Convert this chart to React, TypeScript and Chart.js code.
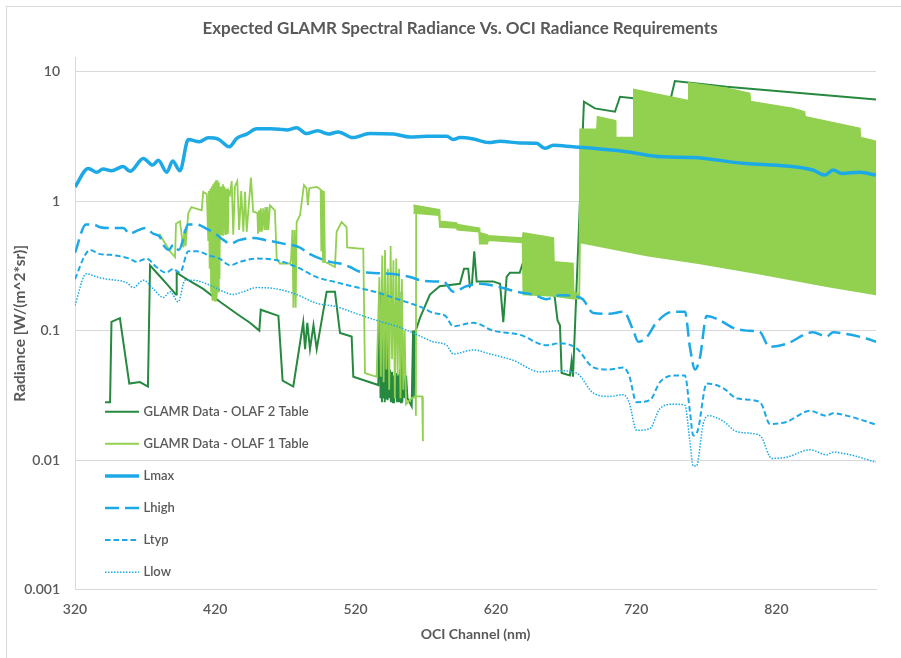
import React, { useEffect, useRef } from 'react';
import { Chart, registerables } from 'chart.js';

Chart.register(...registerables);

type P = [number, number | null];

// ---------- axis ticks ----------
const xTicks = [320, 420, 520, 620, 720, 820];
const yTicks = [0.001, 0.01, 0.1, 1, 10];
const yTickLabels = ['0.001', '0.01', '0.1', '1', '10'];

// ---------- OCI requirement curves (nm, radiance) ----------
const lmax: P[] = [
  [320, 1.29], [329.5, 1.79], [335.5, 1.67], [340, 1.77], [346, 1.72], [354.4, 1.85], [359.2, 1.7],
  [368.7, 2.14], [375.4, 1.9], [379.4, 2.07], [385.4, 1.67], [389.6, 2.04], [394.8, 1.72], [400.8, 3.0],
  [408.6, 2.88], [415, 3.09], [422.1, 3.02], [430, 2.63], [435.3, 3.06], [442.4, 3.3], [449.6, 3.62],
  [459, 3.62], [466, 3.6], [471, 3.55], [478, 3.7], [485, 3.33], [493, 3.5], [500.5, 3.3], [507.7, 3.43],
  [518, 3.1], [530, 3.33], [547, 3.3], [558.8, 3.13], [570.7, 3.17], [585, 3.17], [589.6, 3.0],
  [594.4, 3.1], [604, 3.02], [614.6, 2.84], [623, 2.9], [637, 2.82], [649, 2.8], [655, 2.56],
  [661, 2.7], [675, 2.63], [689, 2.56], [713, 2.41], [739, 2.2], [760.7, 2.18], [796, 1.96],
  [817.7, 1.9], [846, 1.74], [854.6, 1.59], [860.5, 1.74], [866.5, 1.64], [879.5, 1.67], [891, 1.59],
];

const lhigh: P[] = [
  [320, 0.4], [327.8, 0.66], [333, 0.66], [337.8, 0.63], [345, 0.62], [354.4, 0.62], [359, 0.56],
  [364, 0.59], [370, 0.62], [375.8, 0.56], [380.5, 0.53], [383, 0.46], [387, 0.42], [390, 0.46],
  [394, 0.42], [400.8, 0.66], [406.7, 0.66], [414, 0.61], [420, 0.56], [426, 0.5], [430.5, 0.47],
  [437, 0.5], [447, 0.52], [456, 0.5], [468.5, 0.47], [480, 0.44], [487.5, 0.39], [501.8, 0.34],
  [509, 0.33], [516, 0.31], [523, 0.285], [530, 0.28], [544.5, 0.275], [558.8, 0.26], [566, 0.245],
  [575.4, 0.24], [582.5, 0.24], [589.6, 0.2], [599, 0.22], [608.7, 0.23], [620.6, 0.22], [634.8, 0.2],
  [646.7, 0.19], [656, 0.175], [665.7, 0.188], [675, 0.185], [682, 0.175], [689.4, 0.137], [701, 0.135],
  [711, 0.14], [718, 0.1], [721.5, 0.082], [727.5, 0.089], [734.6, 0.116], [746.5, 0.14], [754.8, 0.14],
  [758.3, 0.075], [762, 0.05], [765.5, 0.062], [770.3, 0.13], [779.7, 0.12], [789.2, 0.105],
  [798.8, 0.1], [808, 0.098], [815, 0.075], [827, 0.079], [846, 0.097], [855.8, 0.09], [860.5, 0.097],
  [870, 0.094], [884, 0.087], [891, 0.082],
];

const ltyp: P[] = [
  [320, 0.25], [327, 0.38], [330.7, 0.42], [337.8, 0.39], [345, 0.385], [352, 0.375], [359, 0.36],
  [364, 0.34], [371, 0.36], [378, 0.31], [385, 0.28], [390, 0.3], [394.8, 0.28], [400.8, 0.41],
  [406.7, 0.41], [416, 0.38], [423, 0.36], [430.5, 0.32], [437.6, 0.34], [449.5, 0.36], [463.8, 0.35],
  [478, 0.31], [492, 0.26], [506.5, 0.236], [520.8, 0.216], [535, 0.198], [549.3, 0.176], [561, 0.16],
  [568, 0.15], [575.4, 0.137], [584, 0.13], [589.6, 0.108], [604, 0.115], [618, 0.1], [637, 0.093],
  [656, 0.077], [665.7, 0.08], [677.6, 0.073], [689.4, 0.052], [701, 0.05], [710.8, 0.052], [715, 0.045],
  [720.3, 0.028], [729.8, 0.029], [737, 0.04], [746.5, 0.045], [754.8, 0.045], [758.3, 0.024],
  [760.7, 0.0155], [764, 0.017], [770.3, 0.039], [782, 0.036], [791.6, 0.03], [803.5, 0.029],
  [809.4, 0.027], [815.4, 0.019], [827, 0.0197], [844, 0.024], [855.8, 0.022], [860.5, 0.023],
  [872.4, 0.0217], [891, 0.0188],
];

const llow: P[] = [
  [320, 0.157], [328, 0.275], [335.5, 0.26], [342.6, 0.25], [349.7, 0.245], [356.8, 0.235],
  [361.5, 0.215], [368.7, 0.245], [375.8, 0.21], [383, 0.18], [387.7, 0.2], [393.6, 0.167],
  [398.4, 0.245], [404, 0.245], [416, 0.225], [425.7, 0.2], [432.8, 0.19], [440, 0.2], [449.5, 0.215],
  [463.8, 0.21], [478, 0.19], [492, 0.163], [506.5, 0.153], [520.8, 0.135], [535, 0.12], [549.3, 0.108],
  [561, 0.096], [575.4, 0.082], [585, 0.077], [589.6, 0.066], [604, 0.071], [615.8, 0.066],
  [632.4, 0.059], [651.4, 0.048], [665.7, 0.049], [677.6, 0.047], [689.4, 0.033], [701, 0.031],
  [710.8, 0.032], [715, 0.028], [720.3, 0.017], [729.8, 0.0175], [737, 0.025], [746.5, 0.027],
  [754.8, 0.0265], [758.3, 0.014], [760.7, 0.009], [763, 0.009], [767.8, 0.019], [771.4, 0.022],
  [782, 0.02], [791.6, 0.0166], [803.5, 0.016], [809.4, 0.015], [816.6, 0.0103], [827, 0.0105],
  [844, 0.012], [855.8, 0.011], [860.5, 0.0115], [872.4, 0.011], [891, 0.0096],
];

// ---------- GLAMR data ----------
const olaf2: P[] = [
  [341.4, 0.028], [345, 0.028], [346, 0.117], [352, 0.125], [358.7, 0.039], [366.3, 0.04], [372, 0.037],
  [373.5, 0.32], [378.2, 0.28], [385.4, 0.23], [392, 0.19], [392.5, 0.28], [399.6, 0.25], [411.4, 0.21],
  [423.3, 0.167], [435.3, 0.135], [444.7, 0.115], [451.4, 0.1], [452.4, 0.145], [465, 0.13], [468, 0.041],
  [475.6, 0.037], [482.7, 0.116], [484, 0.072], [485.6, 0.115], [487.5, 0.072], [490, 0.11], [492.3, 0.072],
  [499.4, 0.2], [505.3, 0.2], [508.9, 0.096], [517.2, 0.09], [518.4, 0.044], [536.2, 0.038],
  [537.4, 0.2], [537.8, 0.03], [538.3, 0.19], [538.8, 0.028], [539.3, 0.2], [539.8, 0.03], [540.3, 0.18],
  [540.8, 0.028], [541.3, 0.2], [541.8, 0.03], [542.3, 0.17], [542.8, 0.029], [543.3, 0.16], [543.8, 0.03],
  [544.5, 0.05], [545.2, 0.028], [546, 0.048], [546.7, 0.028], [547.4, 0.045], [548.1, 0.03], [548.8, 0.047],
  [549.5, 0.028], [550.2, 0.046], [551, 0.028], [551.8, 0.05], [552.4, 0.028], [552.8, 0.2], [553.3, 0.028],
  [554, 0.045], [555, 0.03], [556, 0.045], [557, 0.03], [560, 0.026], [561, 0.1], [561.5, 0.03],
  [562.3, 0.096], [566, 0.126], [573, 0.19], [580, 0.22], [594.4, 0.23], [597.3, 0.3], [600.3, 0.3],
  [601.5, 0.22], [603, 0.23], [604.6, 0.41], [606.3, 0.24], [618, 0.24], [623, 0.23], [625.3, 0.116],
  [627.7, 0.26], [630, 0.28], [637, 0.28], [639.5, 0.34], [650, 0.3], [660, 0.2], [662, 0.18],
  [664, 0.12], [665.7, 0.11], [666.9, 0.047], [672.8, 0.045], [674, 0.058], [675, 0.044],
  [682.8, 5.87], [690.6, 5.21], [704.9, 4.91], [708.5, 6.41], [718, 6.23], [745, 6.41], [747.6, 8.47],
  [784.5, 7.66], [891, 6.1],
];

const olaf1: P[] = [
  [380.1, 0.56], [387.7, 0.41], [391.3, 0.37], [392, 0.67], [394.8, 0.7], [397.2, 0.44], [398, 0.6],
  [398.8, 0.45], [399.6, 0.58], [400.8, 0.81], [403, 0.9], [410.3, 0.85], [411.4, 1.18], [414, 1.13],
  [415, 0.5], [415.5, 1.2], [416, 0.3], [416.5, 1.25], [417, 0.2], [417.5, 1.3], [418, 0.17], [418.5, 1.35],
  [419, 0.17], [419.5, 1.4], [420, 0.17], [420.5, 1.45], [421, 0.18], [421.5, 1.45], [422, 0.2],
  [422.5, 1.4], [423, 0.25], [423.5, 1.3], [424, 0.55], [424.5, 1.3], [425, 0.55], [425.5, 1.35],
  [426, 0.6], [426.5, 1.3], [427, 0.56], [427.5, 1.25], [428, 0.55], [428.5, 1.25], [429, 0.56],
  [429.5, 1.2], [430.5, 1.13], [431.7, 1.43], [432.8, 0.55], [434, 1.3], [435.7, 1.43], [437, 0.6],
  [438.5, 1.2], [440, 0.58], [441.2, 1.18], [442.4, 0.58], [445.4, 1.52], [447, 0.83], [450, 0.81],
  [450.5, 0.56], [451.2, 0.85], [451.8, 0.58], [452.5, 0.88], [453.2, 0.58], [454.2, 0.88], [455, 0.6],
  [455.8, 0.9], [456.5, 0.6], [457.2, 0.9], [457.8, 0.6], [459, 0.93], [462.5, 0.85], [463.8, 0.36],
  [466, 0.33], [473.2, 0.33], [474, 0.35], [475, 0.6],
  [475.7, 0.15], [476.5, 0.6], [477.3, 0.15], [478, 0.69], [480.4, 0.78], [483.2, 1.33], [485, 1.26],
  [486, 0.93], [487, 1.26], [492.3, 1.29], [495.1, 1.23], [495.6, 0.41], [496.2, 1.22], [496.8, 0.34],
  [497.4, 1.2], [498.2, 0.34], [500.6, 0.33], [505.3, 0.31], [506.5, 0.58], [510, 0.69], [513.6, 0.63],
  [514, 0.44], [523, 0.43], [525.5, 0.43], [526.7, 0.047], [535, 0.044], [537, 0.26], [538, 0.044],
  [539, 0.38], [540, 0.04], [541, 0.42], [542, 0.05], [543, 0.3], [544, 0.035], [545, 0.45], [546, 0.06],
  [547, 0.35], [548, 0.03], [549, 0.36], [550, 0.045], [551, 0.3], [552, 0.03], [553, 0.25], [554, 0.035],
  [555, 0.1], [556, 0.027], [560, 0.03], [562.8, 0.031], [563, 0.022], [563.2, 0.9],
  [563.4, null], [563.5, 0.031], [567.5, 0.031], [568, 0.014],
];

// dense OLAF 1 oscillation: upper and lower envelope
const olaf1BandTop: P[] = [
  [561.2, 0.93], [579.5, 0.86], [580, 0.7], [592, 0.68], [592.5, 0.66], [608, 0.62], [608.5, 0.57],
  [614, 0.55], [614.5, 0.54], [639, 0.52], [639.5, 0.57], [661, 0.52], [661.5, 0.34], [675, 0.33],
  [675.5, 0.2], [679.5, 0.19], [680, 3.6], [692, 3.6], [692.5, 4.5], [705, 4.2], [705.5, 3.1],
  [718, 3.1], [718.3, 7.3], [757, 6.0], [757.5, 8.2], [784, 7.5], [801, 6.8], [801.5, 5.9],
  [832, 5.2], [840, 4.9], [840.5, 4.5], [879.5, 3.65], [880, 3.1], [891, 2.9],
];
const olaf1BandBottom: P[] = [
  [561.2, 0.81], [579.5, 0.78], [580, 0.63], [592, 0.62], [592.5, 0.6], [608, 0.58], [608.5, 0.47],
  [614, 0.47], [614.5, 0.5], [639, 0.48], [639.5, 0.19], [661, 0.185], [675, 0.176], [679.5, 0.176],
  [680, 0.48], [727.5, 0.38], [765.5, 0.33], [808, 0.275], [855.8, 0.22], [891, 0.19],
];

// ---------- styling ----------
const FONT = 'Lato, "Open Sans", sans-serif';
const TEXT = '#595959';
const GRID = '#D9D9D9';
const BLUE = '#1CA9E6';
const DARK_GREEN = '#26893F';
const LIGHT_GREEN = '#92D050';

const legendItems = [
  { label: 'GLAMR Data - OLAF 2 Table', color: DARK_GREEN, width: 2, dash: [] as number[] },
  { label: 'GLAMR Data - OLAF 1 Table', color: LIGHT_GREEN, width: 2, dash: [] as number[] },
  { label: 'Lmax', color: BLUE, width: 3.5, dash: [] as number[] },
  { label: 'Lhigh', color: BLUE, width: 2.5, dash: [14, 6] },
  { label: 'Ltyp', color: BLUE, width: 2, dash: [5.5, 3] },
  { label: 'Llow', color: BLUE, width: 1.5, dash: [1.5, 1.5] },
];

const toXY = (arr: P[]) => arr.map(([x, y]) => ({ x, y }));

export default function App() {
  const ref = useRef<HTMLCanvasElement | null>(null);

  useEffect(() => {
    const canvas = ref.current;
    if (!canvas) return;

    const framePlugin = {
      id: 'frame',
      beforeDraw(chart: any) {
        const ctx = chart.ctx;
        ctx.save();
        ctx.fillStyle = '#ffffff';
        ctx.fillRect(0, 0, chart.width, chart.height);
        ctx.strokeStyle = GRID;
        ctx.lineWidth = 1;
        ctx.strokeRect(6.5, 6.5, chart.width + 20, chart.height + 20);
        ctx.restore();
      },
      afterDraw(chart: any) {
        const ctx = chart.ctx;
        ctx.save();
        ctx.fillStyle = TEXT;
        ctx.font = `bold 17px ${FONT}`;
        ctx.textAlign = 'center';
        ctx.textBaseline = 'middle';
        ctx.fillText('Expected GLAMR Spectral Radiance Vs. OCI Radiance Requirements', 460, 29);

        // legend inside plot area
        const x0 = 105, x1 = 139, tx = 143.5;
        ctx.font = `600 13px ${FONT}`;
        ctx.textAlign = 'left';
        legendItems.forEach((it, i) => {
          const y = 411.7 + i * 32.1;
          ctx.beginPath();
          ctx.strokeStyle = it.color;
          ctx.lineWidth = it.width;
          ctx.setLineDash(it.dash);
          ctx.moveTo(x0, y);
          ctx.lineTo(x1, y);
          ctx.stroke();
          ctx.setLineDash([]);
          ctx.fillStyle = TEXT;
          ctx.fillText(it.label, tx, y);
        });
        ctx.restore();
      },
    };

    const base = { pointRadius: 0, pointHoverRadius: 0, fill: false, tension: 0 };

    const chart = new Chart(canvas, {
      type: 'line',
      data: {
        datasets: [
          { ...base, label: 'GLAMR Data - OLAF 2 Table', data: toXY(olaf2), borderColor: DARK_GREEN, borderWidth: 2, order: 7 },
          { ...base, label: 'band top', data: toXY(olaf1BandTop), borderColor: LIGHT_GREEN, backgroundColor: LIGHT_GREEN, borderWidth: 1.5, fill: '+1', order: 5 },
          { ...base, label: 'band bottom', data: toXY(olaf1BandBottom), borderColor: LIGHT_GREEN, borderWidth: 1.5, order: 6 },
          { ...base, label: 'GLAMR Data - OLAF 1 Table', data: toXY(olaf1), borderColor: LIGHT_GREEN, borderWidth: 1.8, order: 4 },
          { ...base, label: 'Lmax', data: toXY(lmax), borderColor: BLUE, borderWidth: 3.5, cubicInterpolationMode: 'monotone', order: 3 },
          { ...base, label: 'Lhigh', data: toXY(lhigh), borderColor: BLUE, borderWidth: 2.5, borderDash: [14, 6], cubicInterpolationMode: 'monotone', order: 2 },
          { ...base, label: 'Ltyp', data: toXY(ltyp), borderColor: BLUE, borderWidth: 2, borderDash: [5.5, 3], cubicInterpolationMode: 'monotone', order: 1 },
          { ...base, label: 'Llow', data: toXY(llow), borderColor: BLUE, borderWidth: 1.5, borderDash: [1.5, 1.5], cubicInterpolationMode: 'monotone', order: 0 },
        ] as any,
      },
      options: {
        responsive: false,
        animation: false,
        devicePixelRatio: 1,
        events: [],
        layout: { padding: { top: 57, right: 25, bottom: 0, left: 0 } },
        plugins: {
          legend: { display: false },
          tooltip: { enabled: false },
          title: { display: false },
        },
        scales: {
          x: {
            type: 'linear',
            min: 320,
            max: 891,
            afterBuildTicks: (s: any) => { s.ticks = xTicks.map((v) => ({ value: v })); },
            afterFit: (s: any) => { s.height = 68.5; },
            grid: { display: true, color: 'rgba(0,0,0,0)', drawTicks: false },
            border: { display: true, color: GRID, width: 1 },
            ticks: {
              autoSkip: false, maxRotation: 0, padding: 12, color: TEXT,
              font: { family: FONT, size: 14, weight: '600' },
              callback: (v: any) => String(v),
            },
            title: {
              display: true, text: 'OCI Channel (nm)', color: TEXT,
              font: { family: FONT, size: 14, weight: 'bold' },
              padding: { top: 0, bottom: 15.6 },
            },
          },
          y: {
            type: 'logarithmic',
            min: 0.001,
            max: 13,
            afterBuildTicks: (s: any) => { s.ticks = yTicks.map((v) => ({ value: v })); },
            afterFit: (s: any) => { s.width = 75; },
            grid: { display: true, color: GRID, lineWidth: 1, drawTicks: false },
            border: { display: true, color: GRID, width: 1 },
            ticks: {
              autoSkip: false, padding: 15, color: TEXT,
              font: { family: FONT, size: 14, weight: '600' },
              callback: (v: any) => {
                const i = yTicks.indexOf(Number(v));
                return i >= 0 ? yTickLabels[i] : '';
              },
            },
            title: {
              display: true, text: 'Radiance [W/(m^2*sr)]', color: TEXT,
              font: { family: FONT, size: 15.5, weight: 'bold' },
              padding: { top: 11, bottom: 0 },
            },
          },
        },
      } as any,
      plugins: [framePlugin],
    });

    return () => chart.destroy();
  }, []);

  return (
    <div style={{ position: 'absolute', left: 0, top: 0, width: 901, height: 658, background: '#fff' }}>
      <canvas ref={ref} width={901} height={658} style={{ display: 'block', width: 901, height: 658 }} />
    </div>
  );
}
